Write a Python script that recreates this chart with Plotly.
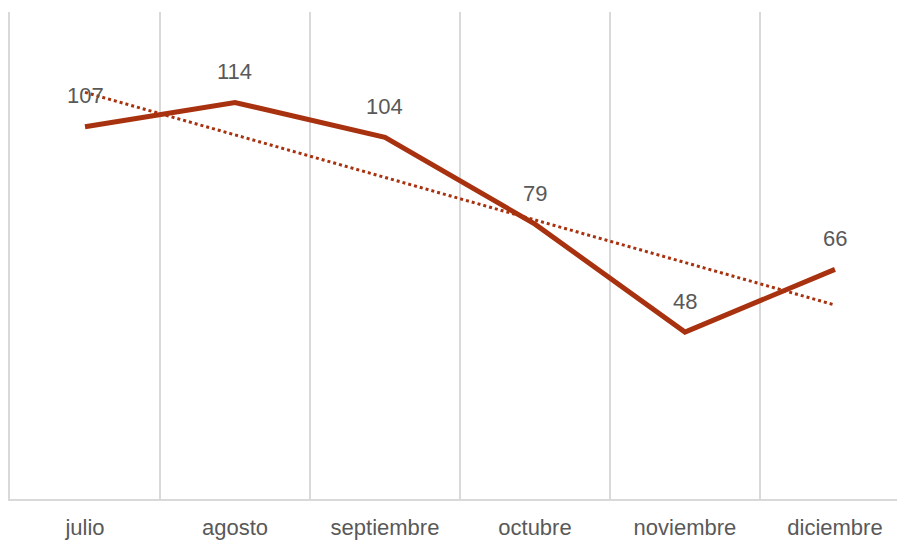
import numpy as np
import plotly.graph_objects as go

months = ["julio", "agosto", "septiembre", "octubre", "noviembre", "diciembre"]
values = [107, 114, 104, 79, 48, 66]

line_color = "#A8320F"
grid_color = "#D9D9D9"
text_color = "#595959"
font_family = "Liberation Sans, Arial, sans-serif"

# linear trendline (as in the spreadsheet's trendline)
xi = np.arange(1, len(values) + 1)
slope, intercept = np.polyfit(xi, values, 1)
trend = slope * xi + intercept

fig = go.Figure()
fig.add_trace(go.Scatter(
    x=months, y=trend, mode="lines",
    line=dict(color=line_color, width=3, dash="dot"),
    hoverinfo="skip", showlegend=False,
))
fig.add_trace(go.Scatter(
    x=months, y=values, mode="lines",
    line=dict(color=line_color, width=5),
    showlegend=False,
))
for m, v in zip(months, values):
    fig.add_annotation(
        x=m, y=v, text=str(v), showarrow=False, yshift=31,
        font=dict(size=22, color=text_color, family=font_family),
    )

# page body adds an 8px margin, so the figure is sized to fill the window
fig.update_layout(
    width=897, height=532,
    margin=dict(l=2, r=0, t=4, b=41),
    paper_bgcolor="white", plot_bgcolor="white",
    font=dict(family=font_family, color=text_color, size=22),
    xaxis=dict(
        type="category", categoryorder="array", categoryarray=months,
        range=[-0.5, len(months) - 0.5 - 0.033],
        tickson="boundaries", showgrid=True, gridcolor=grid_color, gridwidth=2,
        showline=True, linecolor=grid_color, linewidth=2,
        ticks="", ticklabelstandoff=8, automargin=False,
        tickfont=dict(size=22, color=text_color, family=font_family),
        zeroline=False, fixedrange=True,
    ),
    yaxis=dict(
        range=[0, 140], showgrid=False, showticklabels=False,
        zeroline=False, showline=True, linecolor=grid_color, linewidth=2,
        ticks="", fixedrange=True, automargin=False,
    ),
)

fig.write_html("out.html")
